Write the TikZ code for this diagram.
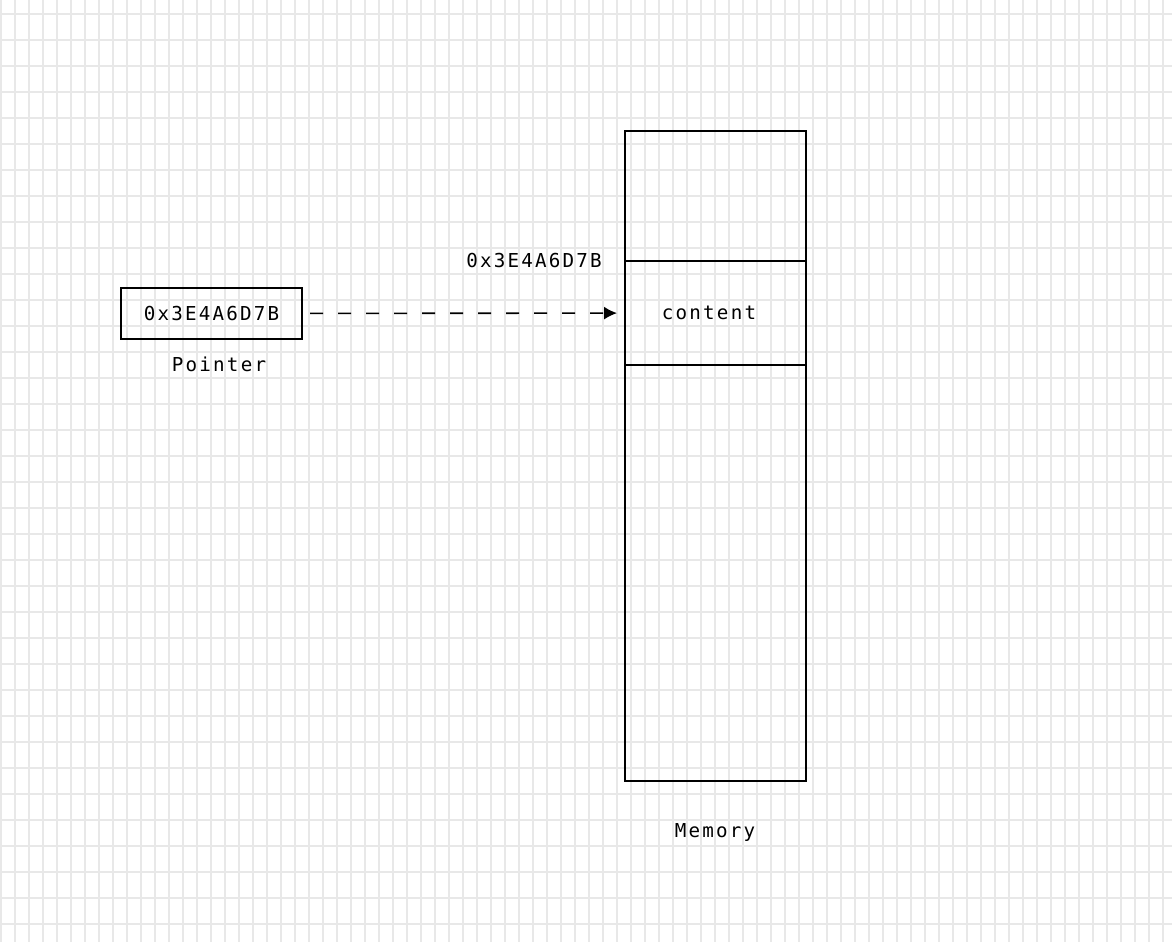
\documentclass[tikz,border=0pt]{standalone}
\usepackage{fontspec}
\setmonofont[LetterSpace=11.5]{DejaVu Sans Mono}
\usetikzlibrary{arrows.meta}
\usetikzlibrary{positioning}

\tikzset{
  gridline/.style={draw=black!9, line width=2pt},
  membox/.style={draw, line width=1.6pt, outer sep=0pt, inner sep=0pt},
  label/.style={outer sep=0pt, inner sep=0pt},
  ptrarrow/.style={line width=1.6pt, dash pattern=on 13pt off 15pt,
    -{Latex[length=13pt,width=13pt]}, shorten <=8pt, shorten >=8pt}
}

\begin{document}
\begin{tikzpicture}[x=1pt,y=-1pt,font=\ttfamily\fontsize{19.2}{22}\selectfont]
  \fill[white] (0,0) rectangle (1172,942);
  \useasboundingbox (0,0) rectangle (1172,942);

  % background grid
  \foreach \x in {1,15,...,1170} \draw[gridline] (\x,0) -- (\x,942);
  \foreach \y in {14,40,...,940} \draw[gridline] (0,\y) -- (1172,\y);

  \node [membox, minimum width=181pt, minimum height=51pt] (ptr) at (211.5,313.5) {0x3E4A6D7B};
  \node [label] (ptr_name) at (219,364) {Pointer};

  \node [membox, minimum width=181pt, minimum height=650pt] (mem) at (715.5,456) {};
  \node [label, minimum width=181pt, minimum height=104pt] (cell) at (715.5,313) {};
  \draw [line width=1.6pt] (cell.north west) -- (cell.north east)
                           (cell.south west) -- (cell.south east);
  \node [label] (content) at (709,313) {content};
  \node [label] (addr) at (534,261) {0x3E4A6D7B};
  \node [label] (mem_name) at (715,832) {Memory};

  \draw [ptrarrow] (ptr) -- (cell);

\end{tikzpicture}
\end{document}
